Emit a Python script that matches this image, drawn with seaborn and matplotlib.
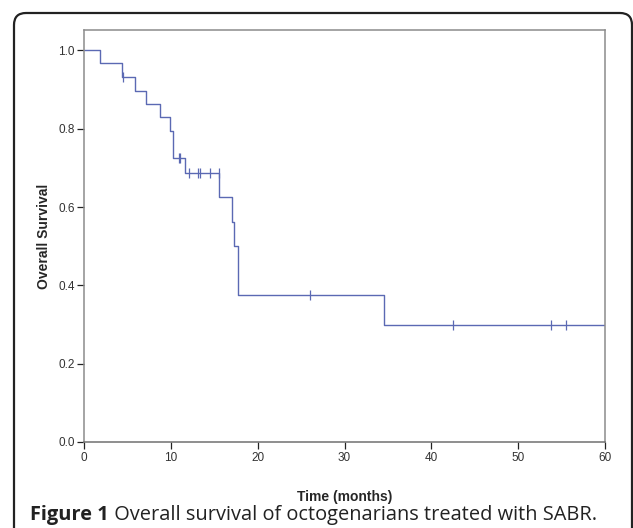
import numpy as np
import seaborn as sns
import matplotlib.pyplot as plt
from matplotlib.patches import FancyBboxPatch
from matplotlib.transforms import IdentityTransform

# Kaplan-Meier steps
step_times = [0, 1.8, 4.4, 5.9, 7.1, 8.8, 9.9, 10.2, 10.3, 11.6, 15.6, 17.0, 17.3, 17.7, 34.5, 60]
survival = [1.0, 0.967, 0.932, 0.897, 0.863, 0.829, 0.795, 0.759, 0.725, 0.688, 0.625, 0.563, 0.500, 0.375, 0.300, 0.300]

# censored observations (tick marks)
censor_times = [4.5, 10.9, 11.1, 12.1, 13.1, 13.4, 14.5, 15.5, 26.0, 42.5, 53.8, 55.5]

x_ticks = [0, 10, 20, 30, 40, 50, 60]
y_ticks = [0.0, 0.2, 0.4, 0.6, 0.8, 1.0]

# survival value at each censor time from the step curve
idx = np.searchsorted(step_times, censor_times, side="right") - 1
censor_surv = [survival[i] for i in idx]

sns.set_style("white")
plt.rcParams["font.family"] = ["Liberation Sans Narrow", "Liberation Sans", "DejaVu Sans"]

line_color = "#5b69b3"

fig = plt.figure(figsize=(6.33, 5.28), dpi=100)
ax = fig.add_axes([84 / 633, 1 - 442 / 528, 521 / 633, 412 / 528])

sns.lineplot(x=step_times, y=survival, drawstyle="steps-post", color=line_color,
             linewidth=1.0, ax=ax)
sns.scatterplot(x=censor_times, y=censor_surv, marker="|", s=45, color=line_color,
                linewidth=0.9, ax=ax)

ax.set_xlim(0, 60)
ax.set_ylim(0, 1.052)
ax.set_xticks(x_ticks)
ax.set_yticks(y_ticks)
ax.set_xticklabels([str(t) for t in x_ticks])
ax.set_yticklabels([f"{t:.1f}" for t in y_ticks])

for s in ax.spines.values():
    s.set_color("#8c8c8c")
    s.set_linewidth(1.1)
ax.spines["bottom"].set_color("#707070")

ax.tick_params(axis="both", which="both", direction="out", length=5, width=0.9,
               color="#222222", labelsize=8.5, labelcolor="#333333")
ax.tick_params(axis="y", pad=1.5, left=True)
ax.tick_params(axis="x", pad=2.5, bottom=True)

ax.set_xlabel("Time (months)", fontsize=10, fontweight="bold",
              family=["Liberation Sans", "DejaVu Sans"])
ax.set_ylabel("Overall Survival", fontsize=10, fontweight="bold",
              family=["Liberation Sans", "DejaVu Sans"])
ax.xaxis.set_label_coords(0.5, -0.117)
ax.yaxis.set_label_coords(-0.064, 0.5)

# caption
cap_font = ["Open Sans", "DejaVu Sans"]
t1 = fig.text(30.5 / 633, 8 / 528, "Figure 1", fontsize=14.4, fontweight="bold",
              family=cap_font, color="#222222", va="baseline")
ax.annotate(" Overall survival of octogenarians treated with SABR.", xy=(1, 0),
            xycoords=t1, va="bottom", ha="left", fontsize=14.4, family=cap_font,
            color="#222222", annotation_clip=False)

# rounded outer frame
frame = FancyBboxPatch((14, -20), 618, 535, boxstyle="round,pad=0,rounding_size=12",
                       transform=IdentityTransform(), fill=False,
                       edgecolor="#222222", linewidth=1.6)
fig.add_artist(frame)

fig.savefig("out.png", dpi=100)
